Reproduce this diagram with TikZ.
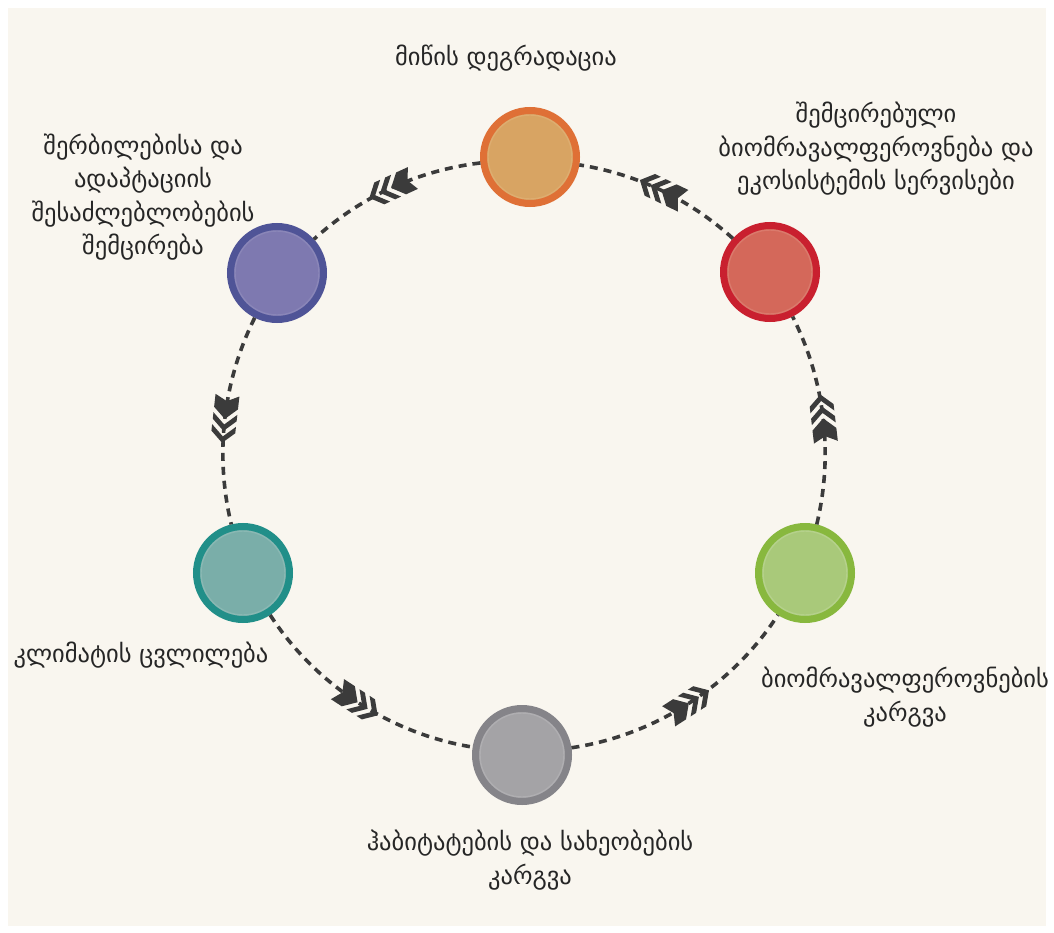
\documentclass[tikz,border=0pt]{standalone}
\usepackage{fontspec}
\setmainfont{DejaVu Sans}
\usetikzlibrary{decorations.markings}
\definecolor{bg}{HTML}{F9F6EF}
\definecolor{ink}{HTML}{3B3B3B}
\definecolor{txt}{HTML}{262626}
\definecolor{orR}{HTML}{DF7036}\definecolor{orF}{HTML}{D8A463}\definecolor{orL}{HTML}{DDAD70}
\definecolor{rdR}{HTML}{C9202F}\definecolor{rdF}{HTML}{D4685A}\definecolor{rdL}{HTML}{DA7A6C}
\definecolor{gnR}{HTML}{88B83E}\definecolor{gnF}{HTML}{A9C97A}\definecolor{gnL}{HTML}{B5D18B}
\definecolor{gyR}{HTML}{858489}\definecolor{gyF}{HTML}{A4A3A6}\definecolor{gyL}{HTML}{AFAEB1}
\definecolor{tlR}{HTML}{218F89}\definecolor{tlF}{HTML}{7AAEA9}\definecolor{tlL}{HTML}{8AB8B3}
\definecolor{ppR}{HTML}{4F5497}\definecolor{ppF}{HTML}{7E79B0}\definecolor{ppL}{HTML}{8A86B8}
\newcommand\mychevrons{%
  \fill[ink] (24,0) -- (13,12) -- (6.5,12) -- (17.5,0) -- (6.5,-12) -- (13,-12) -- cycle;
  \fill[ink] (12,0) -- (1,12) -- (-5.5,12) -- (5.5,0) -- (-5.5,-12) -- (1,-12) -- cycle;
  \fill[ink] (0,0) -- (-11,12) -- (-24,12) -- (-18,0) -- (-24,-12) -- (-11,-12) -- cycle;
}
\tikzset{
  stage/.style n args={3}{circle, minimum size=93pt, inner sep=0pt, line width=7pt,
    draw=#1, fill=#2,
    path picture={\draw[#3, line width=1.4pt] (path picture bounding box.center) circle (42pt);}},
  flow/.style={draw=ink, line width=3.6pt, dash pattern=on 8pt off 6pt, looseness=0.88,
    postaction={decorate},
    decoration={markings, mark=at position 0.5 with {\mychevrons}}},
  lbl/.style={align=center, text=txt, font=\fontsize{24.5}{33.5}\selectfont, inner sep=0pt},
}
\begin{document}
\begin{tikzpicture}[x=1pt,y=-1pt]
\useasboundingbox (0,0) rectangle (1054,933);
\fill[white] (0,0) rectangle (1054,933);
\fill[bg] (8,8) rectangle (1046,926);

\node[stage={orR}{orF}{orL}] (land) at (530,157) {};
\node[stage={rdR}{rdF}{rdL}] (eco) at (770,272) {};
\node[stage={gnR}{gnF}{gnL}] (bio) at (805,573) {};
\node[stage={gyR}{gyF}{gyL}] (hab) at (522,755) {};
\node[stage={tlR}{tlF}{tlL}] (clim) at (243,573) {};
\node[stage={ppR}{ppF}{ppL}] (mit) at (277,273) {};

\draw[flow] (clim) to[bend right=24] (hab);
\draw[flow] (hab) to[bend right=24.4] (bio);
\draw[flow] (bio) to[bend right=20.2] (eco);
\draw[flow] (eco) to[bend right=16.5] (land);
\draw[flow] (land) to[bend right=17.8] (mit);
\draw[flow] (mit) to[bend right=20] (clim);

\node[lbl] (tland) at (506,58) {მიწის დეგრადაცია};
\node[lbl] (teco) at (876,149) {შემცირებული\\ბიომრავალფეროვნება და\\ეკოსისტემის სერვისები};
\node[lbl] (tbio) at (905,697) {ბიომრავალფეროვნების\\კარგვა};
\node[lbl] (thab) at (530,860) {ჰაბიტატების და სახეობების\\კარგვა};
\node[lbl] (tclim) at (141,655) {კლიმატის ცვლილება};
\node[lbl] (tmit) at (143,197) {შერბილებისა და\\ადაპტაციის\\შესაძლებლობების\\შემცირება};
\end{tikzpicture}
\end{document}
